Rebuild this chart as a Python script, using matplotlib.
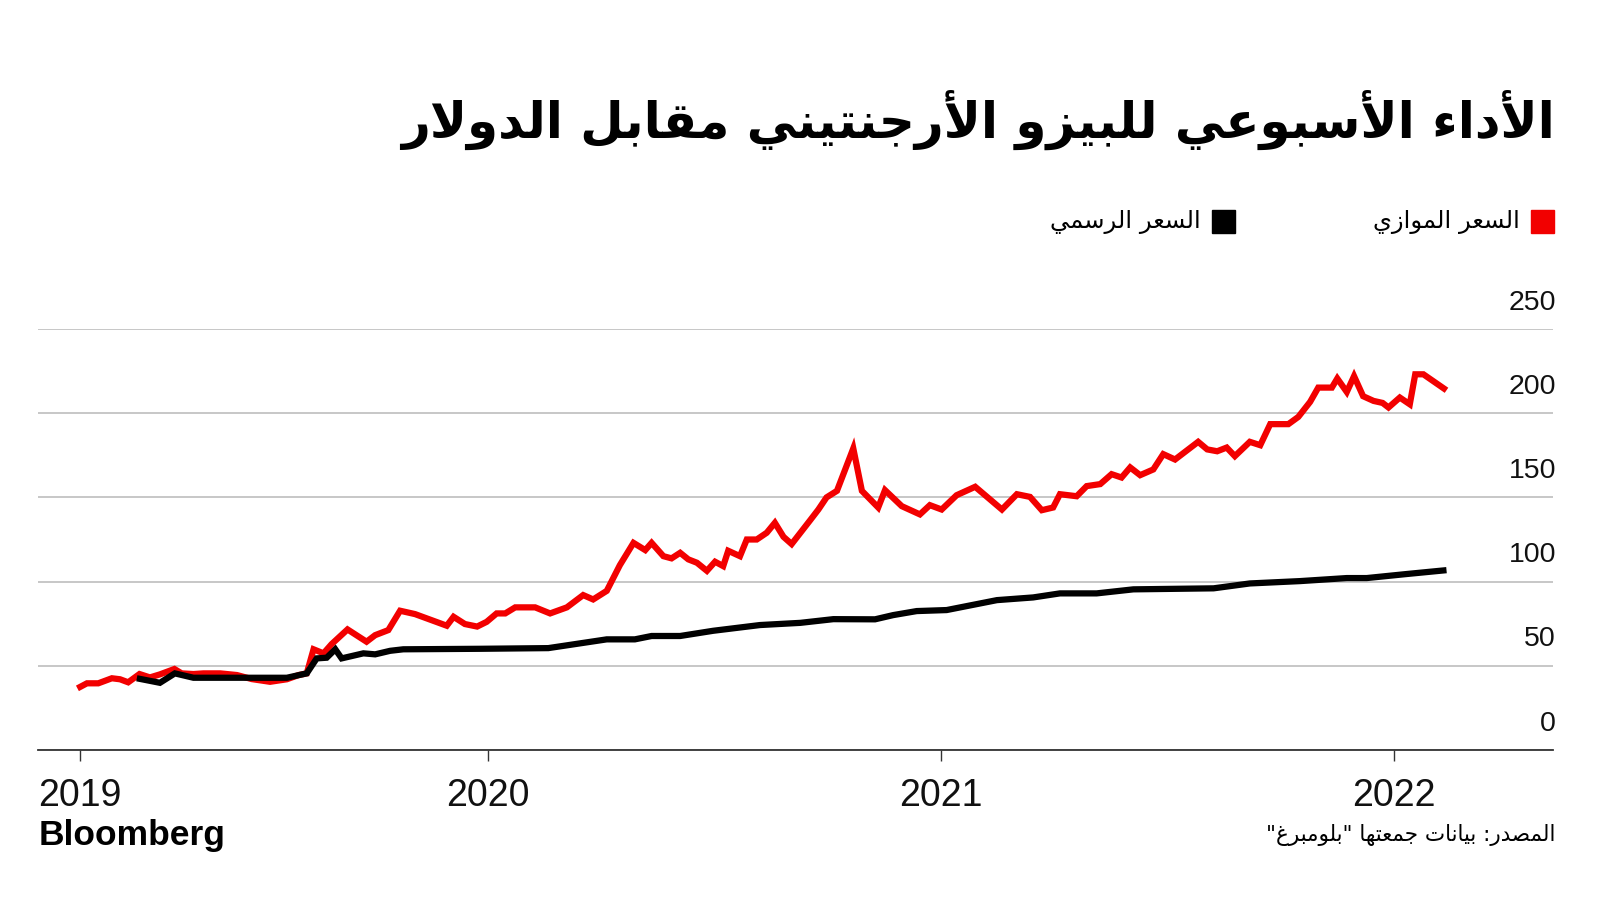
import matplotlib
matplotlib.use("Agg")
import matplotlib.pyplot as plt
from matplotlib.patches import Rectangle

# ---------------- data (decimal years, ARS per USD) ----------------
parallel_x = [2019.095, 2019.116, 2019.141, 2019.171, 2019.189, 2019.207, 2019.232, 2019.255,
              2019.277, 2019.309, 2019.325, 2019.351, 2019.373, 2019.410, 2019.447, 2019.480,
              2019.520, 2019.557, 2019.583, 2019.601, 2019.616, 2019.638, 2019.656, 2019.691,
              2019.733, 2019.752, 2019.781, 2019.807, 2019.840, 2019.910, 2019.925, 2019.950,
              2019.977, 2019.998, 2020.020, 2020.039, 2020.061, 2020.105, 2020.138, 2020.175,
              2020.211, 2020.233, 2020.263, 2020.292, 2020.322, 2020.348, 2020.362, 2020.388,
              2020.406, 2020.425, 2020.443, 2020.462, 2020.484, 2020.502, 2020.520, 2020.531,
              2020.557, 2020.572, 2020.594, 2020.616, 2020.634, 2020.653, 2020.671, 2020.712,
              2020.730, 2020.748, 2020.771, 2020.807, 2020.826, 2020.862, 2020.877, 2020.914,
              2020.954, 2020.976, 2021.002, 2021.035, 2021.076, 2021.135, 2021.168, 2021.197,
              2021.223, 2021.248, 2021.263, 2021.300, 2021.322, 2021.352, 2021.377, 2021.399,
              2021.418, 2021.440, 2021.469, 2021.491, 2021.517, 2021.568, 2021.588, 2021.610,
              2021.631, 2021.649, 2021.682, 2021.705, 2021.727, 2021.767, 2021.789, 2021.815,
              2021.833, 2021.863, 2021.875, 2021.896, 2021.912, 2021.932, 2021.955, 2021.975,
              2021.988, 2022.013, 2022.035, 2022.047, 2022.065, 2022.116]
parallel_y = [36.6, 39.6, 39.6, 42.6, 42.0, 40.2, 45.1, 43.1,
              44.9, 48.1, 45.5, 45.1, 45.5, 45.5, 44.5, 42.1,
              40.5, 42.0, 44.5, 45.5, 59.8, 57.4, 62.9, 71.6,
              64.3, 68.2, 71.2, 82.7, 80.7, 73.8, 79.1, 74.8,
              73.3, 76.1, 81.1, 81.1, 84.7, 84.7, 81.1, 84.7,
              92.0, 89.4, 94.5, 109.8, 123.0, 118.7, 123.0, 115.1,
              113.8, 117.1, 113.2, 111.2, 106.4, 111.8, 109.2, 118.3,
              115.1, 125.0, 125.0, 129.0, 134.9, 126.6, 122.3, 136.5,
              142.8, 150.0, 153.9, 179.1, 153.9, 144.0, 154.3, 144.8,
              139.9, 145.4, 142.8, 151.3, 156.3, 142.8, 151.9, 150.3,
              142.4, 144.0, 151.9, 150.7, 156.7, 157.9, 163.8, 161.8,
              167.8, 163.2, 166.6, 175.7, 172.5, 183.0, 178.5, 177.4,
              179.6, 174.5, 183.0, 181.0, 193.5, 193.5, 197.8, 206.7,
              215.2, 215.2, 220.6, 212.6, 222.0, 210.1, 207.3, 206.1,
              203.4, 209.3, 205.3, 223.1, 223.1, 213.6]

official_x = [2019.226, 2019.277, 2019.310, 2019.351, 2019.557, 2019.601, 2019.623, 2019.645,
              2019.664, 2019.678, 2019.726, 2019.752, 2019.785, 2019.814, 2019.983, 2020.134,
              2020.263, 2020.325, 2020.362, 2020.425, 2020.498, 2020.601, 2020.690, 2020.763,
              2020.855, 2020.895, 2020.947, 2021.013, 2021.124, 2021.204, 2021.263, 2021.344,
              2021.425, 2021.602, 2021.682, 2021.793, 2021.896, 2021.940, 2022.028, 2022.116]
official_y = [42.6, 39.9, 45.5, 42.9, 42.9, 45.5, 54.4, 54.8,
              59.8, 54.4, 57.4, 56.8, 58.9, 59.8, 60.1, 60.5,
              65.7, 65.7, 67.7, 67.7, 70.8, 74.2, 75.5, 77.7,
              77.6, 80.1, 82.5, 83.1, 89.0, 90.6, 93.0, 93.0,
              95.4, 96.0, 98.9, 100.3, 102.1, 102.1, 104.5, 106.8]

year_ticks = [2019.10, 2020.0, 2021.0, 2022.0]
year_labels = ["2019", "2020", "2021", "2022"]
y_ticks = [0, 50, 100, 150, 200, 250]

title = "الأداء الأسبوعي للبيزو الأرجنتيني مقابل الدولار"
label_parallel = "السعر الموازي"
label_official = "السعر الرسمي"
source = 'المصدر: بيانات جمعتها "بلومبرغ"'

RED = "#f20000"
BLACK = "#000000"

# ---------------- minimal Arabic shaping (presentation forms + RTL) ----------------
DUAL = {'ئ': 0xFE89, 'ب': 0xFE8F, 'ت': 0xFE95, 'ث': 0xFE99, 'ج': 0xFE9D, 'ح': 0xFEA1,
        'خ': 0xFEA5, 'س': 0xFEB1, 'ش': 0xFEB5, 'ص': 0xFEB9, 'ض': 0xFEBD, 'ط': 0xFEC1,
        'ظ': 0xFEC5, 'ع': 0xFEC9, 'غ': 0xFECD, 'ف': 0xFED1, 'ق': 0xFED5, 'ك': 0xFED9,
        'ل': 0xFEDD, 'م': 0xFEE1, 'ن': 0xFEE5, 'ه': 0xFEE9, 'ي': 0xFEF1}
RIGHT = {'آ': 0xFE81, 'أ': 0xFE83, 'ؤ': 0xFE85, 'إ': 0xFE87, 'ا': 0xFE8D, 'ة': 0xFE93,
         'د': 0xFEA9, 'ذ': 0xFEAB, 'ر': 0xFEAD, 'ز': 0xFEAF, 'و': 0xFEED, 'ى': 0xFEEF}
NONJ = {'ء': 0xFE80}
LAMALEF = {'آ': 0xFEF5, 'أ': 0xFEF7, 'إ': 0xFEF9, 'ا': 0xFEFB}


def shape(text):
    toks = []
    i = 0
    while i < len(text):
        c = text[i]
        if c == 'ل' and i + 1 < len(text) and text[i + 1] in LAMALEF:
            toks.append(('R', LAMALEF[text[i + 1]], None))
            i += 2
            continue
        if c in DUAL:
            toks.append(('D', DUAL[c], None))
        elif c in RIGHT:
            toks.append(('R', RIGHT[c], None))
        elif c in NONJ:
            toks.append(('N', NONJ[c], None))
        else:
            toks.append(('U', None, c))
        i += 1
    out = []
    for k, (t, base, raw) in enumerate(toks):
        if t == 'U':
            out.append(raw)
            continue
        jp = k > 0 and toks[k - 1][0] == 'D' and t in ('D', 'R')
        jn = t == 'D' and k + 1 < len(toks) and toks[k + 1][0] in ('D', 'R')
        if t == 'D':
            cp = base + (3 if (jp and jn) else 1 if jp else 2 if jn else 0)
        elif t == 'R':
            cp = base + (1 if jp else 0)
        else:
            cp = base
        out.append(chr(cp))
    return ''.join(reversed(out))


AR = ['DejaVu Sans']
NUM = ['Liberation Sans', 'DejaVu Sans']

# ---------------- figure ----------------
fig = plt.figure(figsize=(16, 9), dpi=100)
fig.patch.set_facecolor('white')

ax = fig.add_axes([38 / 1600, 1 - 750 / 900, (1553 - 38) / 1600, (750 - 329) / 900])
ax.plot(parallel_x, parallel_y, color=RED, lw=4.5, solid_joinstyle='miter',
        solid_capstyle='butt', zorder=3)
ax.plot(official_x, official_y, color=BLACK, lw=4.5, solid_joinstyle='miter',
        solid_capstyle='butt', zorder=4)

ax.set_xlim(2019.008, 2022.351)
ax.set_ylim(0, 250)

for s in ['top', 'right', 'left']:
    ax.spines[s].set_visible(False)
ax.spines['bottom'].set_color('#333333')
ax.spines['bottom'].set_linewidth(1.3)
ax.spines['bottom'].set_zorder(5)

ax.set_yticks(y_ticks)
ax.yaxis.grid(True, color='#b8b8b8', lw=1.1)
ax.set_axisbelow(True)
ax.tick_params(axis='y', length=0, labelleft=False)

for v in y_ticks:
    ax.annotate(str(v), xy=(1, v), xycoords=('axes fraction', 'data'),
                xytext=(2.2, 19), textcoords='offset points',
                ha='right', va='center', fontsize=20.5, family=NUM, color='#111111')

ax.set_xticks(year_ticks)
ax.set_xticklabels(year_labels, family=NUM, fontsize=27, color='#111111')
ax.tick_params(axis='x', length=8, width=1, color='#333333', pad=12)

# title
fig.text(1555 / 1600, 1 - 120 / 900, shape(title), ha='right', va='center',
         fontsize=36, fontweight='bold', family=AR, color='black')

# legend
fig.patches.append(Rectangle((1531 / 1600, 1 - 233 / 900), 23 / 1600, 23 / 900,
                             transform=fig.transFigure, color=RED, figure=fig))
fig.text(1520 / 1600, 1 - 222 / 900, shape(label_parallel), ha='right', va='center',
         fontsize=17.5, family=AR, color='black')
fig.patches.append(Rectangle((1212 / 1600, 1 - 233 / 900), 23 / 1600, 23 / 900,
                             transform=fig.transFigure, color=BLACK, figure=fig))
fig.text(1201 / 1600, 1 - 222 / 900, shape(label_official), ha='right', va='center',
         fontsize=17.5, family=AR, color='black')

# footer
fig.text(39 / 1600, 1 - 835 / 900, "Bloomberg", ha='left', va='center',
         fontsize=25.5, fontweight='bold', family=NUM, color='black')
fig.text(1556 / 1600, 1 - 835 / 900, shape(source), ha='right', va='center',
         fontsize=15.5, family=AR, color='black')

fig.savefig('out.png', dpi=100, facecolor='white')
